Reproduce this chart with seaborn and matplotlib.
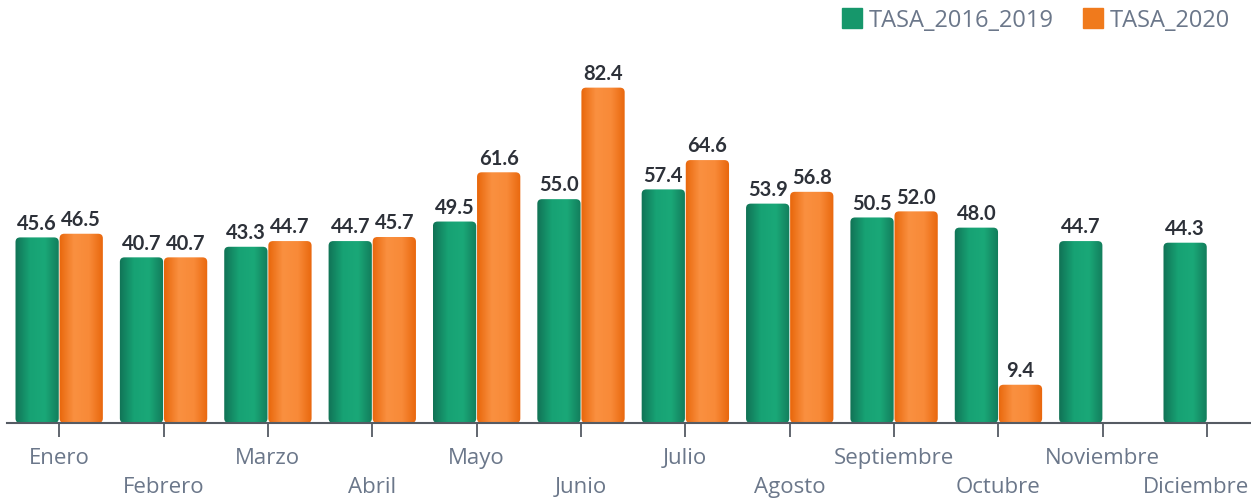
import numpy as np
import pandas as pd
import matplotlib
matplotlib.use("Agg")
import matplotlib.pyplot as plt
import seaborn as sns
from matplotlib.patches import FancyBboxPatch
from matplotlib.colors import LinearSegmentedColormap
from matplotlib.lines import Line2D

meses = ['Enero', 'Febrero', 'Marzo', 'Abril', 'Mayo', 'Junio', 'Julio',
         'Agosto', 'Septiembre', 'Octubre', 'Noviembre', 'Diciembre']
tasa_2016_2019 = [45.6, 40.7, 43.3, 44.7, 49.5, 55.0, 57.4, 53.9, 50.5, 48.0, 44.7, 44.3]
tasa_2020 = [46.5, 40.7, 44.7, 45.7, 61.6, 82.4, 64.6, 56.8, 52.0, 9.4, np.nan, np.nan]
series = ['TASA_2016_2019', 'TASA_2020']

df = pd.DataFrame({
    'mes': meses * 2,
    'tasa': tasa_2016_2019 + tasa_2020,
    'serie': [series[0]] * 12 + [series[1]] * 12,
})

green = '#16976b'
orange = '#f07a1c'
grad = {
    green: LinearSegmentedColormap.from_list('g', ['#117255', '#17a274', '#1aa878', '#127a5a']),
    orange: LinearSegmentedColormap.from_list('o', ['#e8660a', '#fa9040', '#f88a38', '#e8650a']),
}
label_gray = '#6b778a'

sns.set_style('white')
plt.rcParams['font.family'] = ['Open Sans', 'DejaVu Sans']

fig = plt.figure(figsize=(12.51, 5.01), dpi=100)
ax = fig.add_axes([7 / 1251, 78 / 501, 1244 / 1251, 407 / 501])

sns.barplot(data=df, x='mes', y='tasa', hue='serie', palette=[green, orange],
            width=0.845, ax=ax, legend=False, saturation=1)

gradient = np.linspace(0, 1, 256).reshape(1, -1)
bars = [p for p in list(ax.patches) if np.isfinite(p.get_height()) and p.get_height() > 0]
for p in bars:
    x0, w, h = p.get_x(), p.get_width(), p.get_height()
    fc = matplotlib.colors.to_hex(p.get_facecolor())
    cmap = grad[green] if abs(int(fc[1:3], 16) - 0x16) < 20 else grad[orange]
    p.set_visible(False)
    box = FancyBboxPatch((x0 + 0.004, 0), w - 0.008, h,
                         boxstyle='round,pad=0,rounding_size=0.045',
                         mutation_aspect=25, fc='none', ec='none')
    ax.add_patch(box)
    im = ax.imshow(gradient, cmap=cmap, aspect='auto',
                   extent=(x0, x0 + w, 0, h), zorder=2)
    im.set_clip_path(box)
    ax.text(x0 + w / 2, h + 0.9, f'{h:.1f}', ha='center', va='bottom',
            fontsize=14.5, fontweight='bold', color='#2d3139', family='Lato')

ax.set_xlim(-0.5, 11.42)
ax.set_ylim(0, 100)

for s in ['top', 'right', 'left']:
    ax.spines[s].set_visible(False)
ax.spines['bottom'].set_color('#555b63')
ax.spines['bottom'].set_linewidth(1.5)
ax.set_yticks([])
ax.set_xlabel('')
ax.set_ylabel('')
ax.tick_params(axis='x', length=10, width=1.3, color='#555b63',
               labelsize=16, labelcolor=label_gray, bottom=True)
ax.set_xticks(range(len(meses)), meses[:-1] + [''])
for i, t in enumerate(ax.xaxis.get_major_ticks()):
    t.set_pad(8 if i % 2 == 0 else 29)
# last label pushed left so it fits at the edge
ax.annotate(meses[-1], xy=(len(meses) - 1, 0), xycoords=('data', 'axes fraction'),
            xytext=(-8, -39), textcoords='offset points', ha='center', va='top',
            fontsize=16, color=label_gray, annotation_clip=False)

handles = [Line2D([], [], marker='s', linestyle='none', markersize=14,
                  markerfacecolor=c, markeredgecolor=c) for c in [green, orange]]
fig.legend(handles, series, loc='upper right', bbox_to_anchor=(1.0, 1.025), ncol=2,
           frameon=False, fontsize=17, labelcolor=label_gray, handletextpad=0.25,
           columnspacing=1.2, handlelength=0.9)

fig.savefig('out.png', dpi=100)
